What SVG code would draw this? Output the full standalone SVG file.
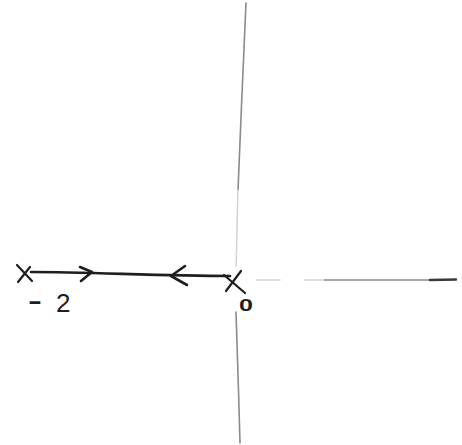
<svg xmlns="http://www.w3.org/2000/svg" width="462" height="445" viewBox="0 0 462 445">
<style>
.axis{fill:none;stroke:#8a8a8a;stroke-width:1.6;stroke-linecap:round}
.faint{fill:none;stroke:#d4d4d4;stroke-width:1.6;stroke-linecap:round}
.locus{fill:none;stroke:#1e1e1e;stroke-width:2.6;stroke-linecap:round;stroke-linejoin:round}
.pole{fill:none;stroke:#1e1e1e;stroke-width:2.2;stroke-linecap:round}
.lbl{font-family:"Liberation Sans",Arial,sans-serif;fill:#1e1e1e}
</style>
<rect width="462" height="445" fill="#ffffff"/>
<g id="axes">
  <path class="axis" d="M246,3 C244,60 240,130 238,190"/>
  <path class="faint" d="M238,190 C237,220 237,245 236,266"/>
  <path class="axis" d="M236,312 C237,350 239,400 240,443"/>
  <path class="faint" d="M257,280 L280,280 M305,280 L322,280"/>
  <path class="axis" d="M324,280 L430,280"/>
  <path d="M430,280 L456,279.5" fill="none" stroke="#3a3a3a" stroke-width="2.4" stroke-linecap="round"/>
</g>
<g id="connectors">
  <path class="locus" d="M31,272 C90,272 160,276 230,276"/>
  <path class="locus" d="M80,267 L92,272 L81,281"/>
  <path class="locus" d="M185,266 L171,276 L187,285"/>
</g>
<g id="pole-minus2">
  <path class="pole" d="M17,265 L32,281 M18,282 L30,267"/>
  <text class="lbl" x="28" y="309" font-size="24" font-weight="bold" textLength="14" lengthAdjust="spacingAndGlyphs">-</text>
  <text class="lbl" x="56" y="312" font-size="26">2</text>
</g>
<g id="pole-zero">
  <path class="pole" d="M241,271 L226,291 M224,275 L245,293"/>
  <text class="lbl" x="239" y="311" font-size="17" font-weight="bold" textLength="14" lengthAdjust="spacingAndGlyphs">0</text>
</g>
</svg>
